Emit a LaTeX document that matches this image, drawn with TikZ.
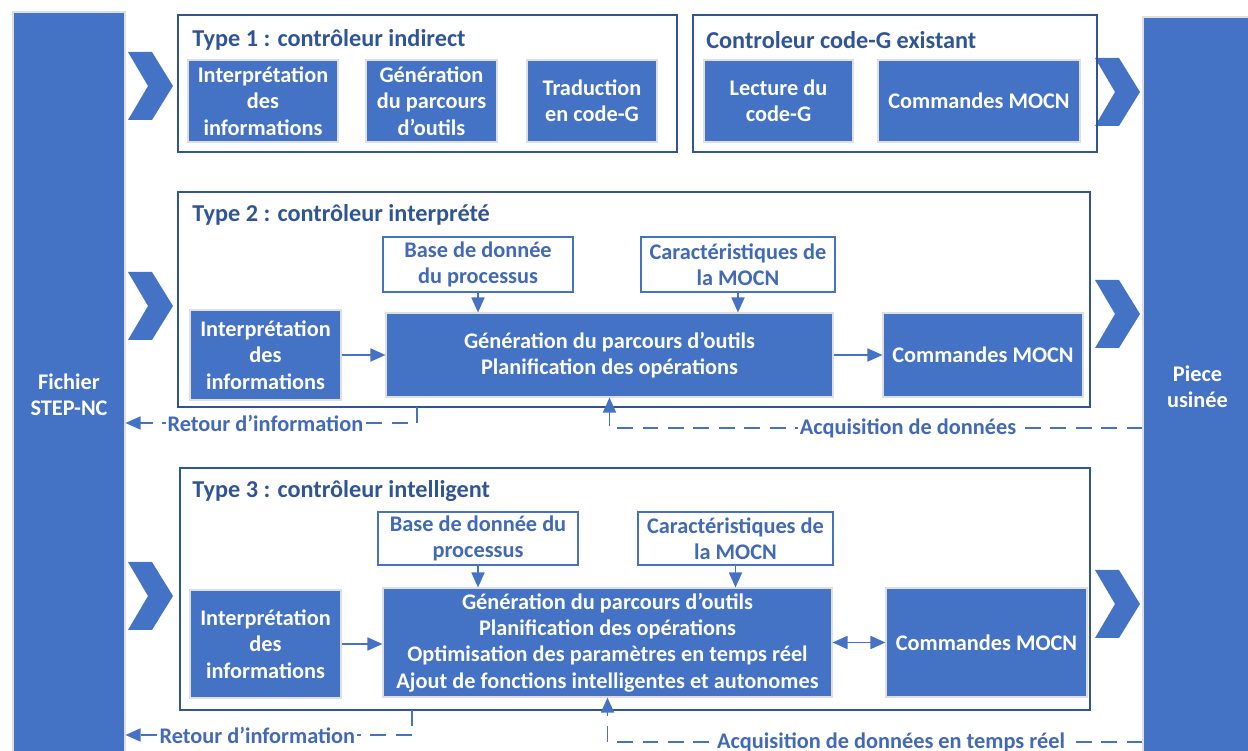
\documentclass[tikz,border=0pt]{standalone}
\usepackage{fontspec}
\setmainfont{Carlito}
\usetikzlibrary{positioning,arrows.meta}
\definecolor{fillblue}{HTML}{4472C4}
\definecolor{darkblue}{HTML}{2F5597}
\definecolor{textblue}{HTML}{4169B8}
\tikzset{
  block/.style = {rectangle, fill=fillblue, draw=gray!25, line width=0.6pt,
                  text=white, font=\bfseries\fontsize{12.7}{15}\selectfont,
                  align=center, inner sep=0pt},
  frame/.style = {rectangle, draw=darkblue, line width=0.9pt, inner sep=0pt},
  whitebox/.style = {rectangle, draw=fillblue, line width=0.9pt, fill=white,
                  text=textblue, font=\bfseries\fontsize{12.7}{15}\selectfont,
                  align=center, inner sep=0pt},
  title/.style = {anchor=west, text=darkblue, inner sep=0pt,
                  font=\bfseries\fontsize{13.8}{16}\selectfont},
  lbl/.style = {fill=white, text=textblue, inner sep=1pt,
                font=\bfseries\fontsize{12.7}{15}\selectfont},
  arrow/.style = {fillblue, line width=1pt, -{Triangle[length=3mm,width=2.6mm]}},
  dblarrow/.style = {fillblue, line width=1pt,
                  {Triangle[length=3mm,width=2.6mm]}-{Triangle[length=3mm,width=2.6mm]}},
  dasharrow/.style = {fillblue, line width=1pt, dash pattern=on 9pt off 5.5pt,
                  -{Triangle[length=3mm,width=2.6mm]}},
  chevron/.pic = {\fill[fillblue] (0,0) -- (0.48,0) -- (0.9,-0.68) -- (0.48,-1.36)
                  -- (0,-1.36) -- (0.4,-0.68) -- cycle;}
}

\begin{document}
\begin{tikzpicture}
\clip (0,0) rectangle (24.96,-15.02);

\node (fichier) [block, minimum width=2.24cm, minimum height=15.32cm] at (1.38,-7.9) {Fichier\\STEP-NC};
\node (piece)   [block, minimum width=2.18cm, minimum height=14.8cm] at (23.95,-7.74) {Piece\\usinée};

\foreach \y in {-1.04,-5.44,-11.24} \pic at (2.56,\y) {chevron};
\foreach \y in {-1.16,-5.6,-11.4} \pic at (21.9,\y) {chevron};

\node (type1)  [frame, minimum width=9.98cm, minimum height=2.74cm] at (8.55,-1.67) {};
\node (type1t) [title] at (3.84,-0.8) {Type 1 : contrôleur indirect};
\node (t1interp) [block, minimum width=3cm, minimum height=1.64cm] at (5.26,-2.02) {Interprétation\\des\\informations};
\node (t1gen)    [block, minimum width=2.62cm, minimum height=1.64cm] at (8.63,-2.02) {Génération\\du parcours\\d’outils};
\node (t1trad)   [block, minimum width=2.6cm, minimum height=1.64cm] at (11.84,-2.02) {Traduction\\en code-G};

\node (codeg)  [frame, minimum width=8.08cm, minimum height=2.74cm] at (17.9,-1.67) {};
\node (codegt) [title] at (14.12,-0.8) {Controleur code-G existant};
\node (cglect) [block, minimum width=2.98cm, minimum height=1.64cm] at (15.57,-2.02) {Lecture du\\code-G};
\node (cgcmd)  [block, minimum width=4.04cm, minimum height=1.64cm] at (19.58,-2.02) {Commandes MOCN};

\node (type2)  [frame, minimum width=18.24cm, minimum height=4.3cm] at (12.68,-5.99) {};
\node (type2t) [title] at (3.84,-4.3) {Type 2 : contrôleur interprété};
\node (t2base)   [whitebox, minimum width=3.8cm, minimum height=1.1cm] at (9.56,-5.29) {Base de donnée\\du processus};
\node (t2carac)  [whitebox, minimum width=3.88cm, minimum height=1.1cm] at (14.76,-5.29) {Caractéristiques de\\la MOCN};
\node (t2interp) [block, minimum width=3.02cm, minimum height=1.8cm] at (5.31,-7.1) {Interprétation\\des\\informations};
\node (t2gen)    [block, minimum width=8.94cm, minimum height=1.68cm] at (12.19,-7.1) {Génération du parcours d’outils\\Planification des opérations};
\node (t2cmd)    [block, minimum width=4cm, minimum height=1.68cm] at (19.66,-7.1) {Commandes MOCN};

\draw[arrow] (t2interp) -- (t2gen);
\draw[arrow] (t2gen) -- (t2cmd);
\draw[dasharrow] (t2base) -- (t2base |- t2gen.north);
\draw[dasharrow] (t2carac) -- (t2carac |- t2gen.north);

\coordinate (r2a) at (8.34,-8.14);
\coordinate (r2b) at (8.34,-8.46);
\draw[dasharrow] (r2a) -- (r2b) -- (r2b -| fichier.east)
  node[lbl, pos=0.52] {Retour d’information};
\coordinate (a2) at (t2gen.south |- 0,-8.56);
\draw[dasharrow] (piece.west |- a2) -- (a2)
  node[lbl, pos=0.44] {Acquisition de données} -- (t2gen.south);

\node (type3)  [frame, minimum width=18.2cm, minimum height=4.84cm] at (12.7,-11.78) {};
\node (type3t) [title] at (3.84,-9.82) {Type 3 : contrôleur intelligent};
\node (t3base)   [whitebox, minimum width=4cm, minimum height=1.06cm] at (9.56,-10.77) {Base de donnée du\\processus};
\node (t3carac)  [whitebox, minimum width=3.9cm, minimum height=1.06cm] at (14.71,-10.77) {Caractéristiques de\\la MOCN};
\node (t3interp) [block, minimum width=3.02cm, minimum height=2.16cm] at (5.31,-12.88) {Interprétation\\des\\informations};
\node (t3gen)    [block, minimum width=8.98cm, minimum height=2.18cm] at (12.15,-12.85) {Génération du parcours d’outils\\Planification des opérations\\Optimisation des paramètres en temps réel\\Ajout de fonctions intelligentes et autonomes};
\node (t3cmd)    [block, minimum width=4.02cm, minimum height=2.18cm] at (19.73,-12.85) {Commandes MOCN};

\draw[arrow] (t3interp) -- (t3interp -| t3gen.west);
\draw[dblarrow] (t3gen) -- (t3cmd);
\draw[dasharrow] (t3base) -- (t3base |- t3gen.north);
\draw[dasharrow] (t3carac) -- (t3carac |- t3gen.north);

\coordinate (r3a) at (8.24,-14.2);
\coordinate (r3b) at (8.24,-14.7);
\draw[dasharrow] (r3a) -- (r3b) -- (r3b -| fichier.east)
  node[lbl, pos=0.54] {Retour d’information};
\coordinate (a3) at (t3gen.south |- 0,-14.84);
\draw[dasharrow] (piece.west |- a3) -- (a3)
  node[lbl, pos=0.47] {Acquisition de données en temps réel} -- (t3gen.south);

\end{tikzpicture}
\end{document}
